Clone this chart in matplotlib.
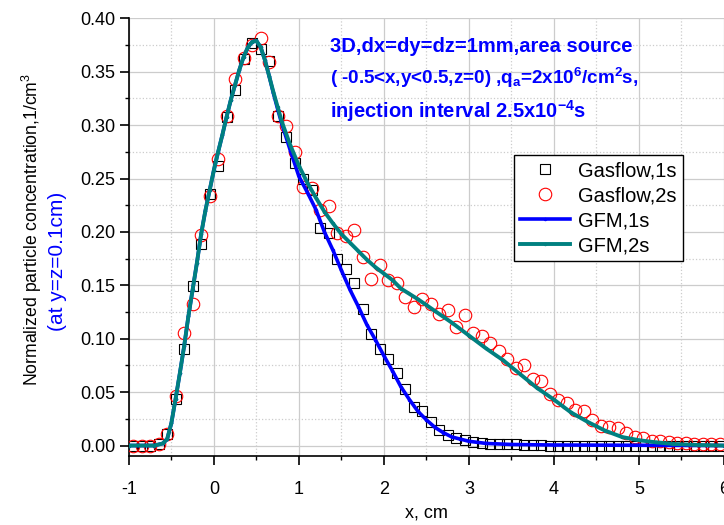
import numpy as np
import matplotlib
matplotlib.use('Agg')
import matplotlib.pyplot as plt
from matplotlib.ticker import MultipleLocator, FormatStrFormatter

plt.rcParams['font.family'] = ['Liberation Sans', 'DejaVu Sans']
plt.rcParams['mathtext.fontset'] = 'custom'
plt.rcParams['mathtext.rm'] = 'Liberation Sans'
plt.rcParams['mathtext.bf'] = 'Liberation Sans:bold'
plt.rcParams['mathtext.it'] = 'Liberation Sans:italic'
plt.rcParams['axes.unicode_minus'] = False

# Gasflow cell centres, dx = 1 mm
x_gas = np.round(np.arange(-0.95, 5.96, 0.1), 2)

gas_1s = [0.000, 0.000, 0.000, 0.001, 0.011, 0.044, 0.090, 0.149, 0.189, 0.236,
          0.262, 0.308, 0.333, 0.362, 0.377, 0.371, 0.360, 0.309, 0.289, 0.265,
          0.250, 0.239, 0.204, 0.199, 0.175, 0.165, 0.152, 0.128, 0.104, 0.090,
          0.081, 0.068, 0.053, 0.036, 0.032, 0.022, 0.015, 0.010, 0.007, 0.005,
          0.003, 0.002, 0.0015, 0.001, 0.001, 0.001, 0.0005, 0.0005, 0.0005, 0.000,
          0.000, 0.000, 0.000, 0.000, 0.000, 0.000, 0.000, 0.000, 0.000, 0.000,
          0.000, 0.000, 0.000, 0.000, 0.000, 0.000, 0.000, 0.000, 0.000, 0.000]

gas_2s = [0.000, 0.000, 0.000, 0.001, 0.011, 0.046, 0.105, 0.133, 0.197, 0.234,
          0.268, 0.309, 0.343, 0.363, 0.375, 0.382, 0.359, 0.309, 0.299, 0.275,
          0.242, 0.241, 0.221, 0.224, 0.199, 0.196, 0.202, 0.177, 0.156, 0.169,
          0.155, 0.152, 0.139, 0.130, 0.137, 0.133, 0.123, 0.127, 0.111, 0.122,
          0.105, 0.103, 0.096, 0.089, 0.081, 0.073, 0.075, 0.062, 0.060, 0.048,
          0.043, 0.040, 0.033, 0.032, 0.024, 0.018, 0.017, 0.016, 0.012, 0.008,
          0.007, 0.004, 0.004, 0.003, 0.002, 0.002, 0.001, 0.001, 0.001, 0.001]

# GFM curves
x_gfm1 = [-1.0, -0.7, -0.6, -0.55, -0.5, -0.45, -0.4, -0.35, -0.3, -0.25, -0.2, -0.15,
          -0.1, -0.05, 0.0, 0.05, 0.1, 0.15, 0.2, 0.25, 0.3, 0.35, 0.4, 0.45, 0.5,
          0.55, 0.6, 0.65, 0.7, 0.75, 0.8, 0.9, 1.0, 1.1, 1.2, 1.3, 1.4, 1.5, 1.6,
          1.7, 1.8, 1.9, 2.0, 2.1, 2.2, 2.3, 2.4, 2.5, 2.6, 2.7, 2.8, 2.9, 3.0, 3.2,
          3.5, 4.0, 6.0]
gfm_1s = [0.0, 0.0, 0.002, 0.006, 0.021, 0.044, 0.068, 0.093, 0.121, 0.146, 0.171, 0.198,
          0.220, 0.239, 0.258, 0.275, 0.291, 0.308, 0.324, 0.338, 0.352, 0.364, 0.373, 0.378, 0.379,
          0.373, 0.361, 0.346, 0.330, 0.315, 0.301, 0.276, 0.252, 0.237, 0.221, 0.200, 0.183, 0.164, 0.146,
          0.130, 0.113, 0.099, 0.084, 0.070, 0.055, 0.043, 0.032, 0.024, 0.017, 0.012, 0.008, 0.006, 0.004, 0.002,
          0.001, 0.0005, 0.0]

x_gfm2 = [-1.0, -0.7, -0.6, -0.55, -0.5, -0.45, -0.4, -0.35, -0.3, -0.25, -0.2, -0.15,
          -0.1, -0.05, 0.0, 0.05, 0.1, 0.15, 0.2, 0.25, 0.3, 0.35, 0.4, 0.45, 0.5,
          0.55, 0.6, 0.65, 0.7, 0.75, 0.8, 0.9, 1.0, 1.1, 1.2, 1.3, 1.4, 1.5, 1.6,
          1.7, 1.8, 1.9, 2.0, 2.1, 2.2, 2.4, 2.6, 2.8, 3.0, 3.2, 3.4, 3.6, 3.8, 4.0,
          4.2, 4.4, 4.6, 4.8, 5.0, 5.2, 5.4, 5.7, 6.0]
gfm_2s = [0.0, 0.0, 0.002, 0.006, 0.021, 0.044, 0.068, 0.093, 0.121, 0.146, 0.171, 0.198,
          0.220, 0.239, 0.258, 0.275, 0.291, 0.308, 0.324, 0.338, 0.352, 0.364, 0.373, 0.378, 0.379,
          0.373, 0.361, 0.346, 0.331, 0.317, 0.303, 0.281, 0.262, 0.246, 0.232, 0.219, 0.208, 0.198, 0.190,
          0.182, 0.174, 0.167, 0.161, 0.155, 0.147, 0.137, 0.126, 0.115, 0.103, 0.091, 0.080, 0.067, 0.054, 0.043,
          0.031, 0.022, 0.014, 0.008, 0.005, 0.003, 0.0015, 0.0005, 0.0]

fig = plt.figure(figsize=(7.24, 5.25), dpi=100)
ax = fig.add_axes([0.178, 0.131, 0.822, 0.834])

ax.plot(x_gas, gas_1s, ls='none', marker='s', ms=7.5, mfc='none', mec='black', mew=0.8,
        label='Gasflow,1s', zorder=3)
ax.plot(x_gas, gas_2s, ls='none', marker='o', ms=9, mfc='none', mec='red', mew=0.8,
        label='Gasflow,2s', zorder=3)
ax.plot(x_gfm1, gfm_1s, color='blue', lw=2.6, marker='.', ms=3, label='GFM,1s', zorder=4)
ax.plot(x_gfm2, gfm_2s, color='#008080', lw=2.8, marker='.', ms=3, label='GFM,2s', zorder=5)

ax.set_xlim(-1, 6)
ax.set_ylim(-0.01, 0.40)
ax.xaxis.set_major_locator(MultipleLocator(1))
ax.xaxis.set_minor_locator(MultipleLocator(0.5))
ax.yaxis.set_major_locator(MultipleLocator(0.05))
ax.yaxis.set_minor_locator(MultipleLocator(0.025))
ax.yaxis.set_major_formatter(FormatStrFormatter('%.2f'))

for side in ['top', 'right']:
    ax.spines[side].set_visible(False)
for side in ['left', 'bottom']:
    ax.spines[side].set_linewidth(1.2)

ax.tick_params(which='major', direction='out', length=6.5, width=1.2, labelsize=13)
ax.tick_params(which='minor', direction='out', length=3, width=1.0)
ax.tick_params(axis='x', which='major', pad=11)
ax.tick_params(axis='y', which='major', pad=3)
ax.grid(which='major', color='#cccccc', lw=0.9, ls='-')
ax.grid(which='minor', color='#cccccc', lw=0.9, ls=':')
ax.set_axisbelow(True)

ax.set_xlabel('x, cm', fontsize=13, labelpad=5)
fig.text(0.044, 0.563, 'Normalized particle concentration,1/cm$^3$', rotation=90,
         fontsize=12.7, ha='center', va='center')
fig.text(0.080, 0.503, '(at y=z=0.1cm)', rotation=90, color='blue',
         fontsize=15, ha='center', va='center')

note_kw = dict(color='blue', fontweight='bold', ha='left', va='baseline')
fig.text(0.456, 1 - 52 / 525, '3D,dx=dy=dz=1mm,area source', fontsize=14.5, **note_kw)
fig.text(0.456, 1 - 84 / 525,
         r'( -0.5<x,y<0.5,z=0) ,q$_{\mathbf{a}}$=2x10$^{\mathbf{6}}$/cm$^{\mathbf{2}}$s,',
         fontsize=13.6, **note_kw)
fig.text(0.456, 1 - 118 / 525, r'injection interval 2.5x10$^{\mathbf{-4}}$s',
         fontsize=14.5, **note_kw)

leg = ax.legend(loc='upper right', bbox_to_anchor=(683 / 724, 1 - 155 / 525),
                bbox_transform=fig.transFigure, borderaxespad=0, fontsize=14.5,
                handlelength=2.5, labelspacing=0.3, fancybox=False, framealpha=1,
                edgecolor='black', borderpad=0.3, handletextpad=0.4)
leg.get_frame().set_linewidth(1.0)

fig.savefig('out.png', dpi=100)
